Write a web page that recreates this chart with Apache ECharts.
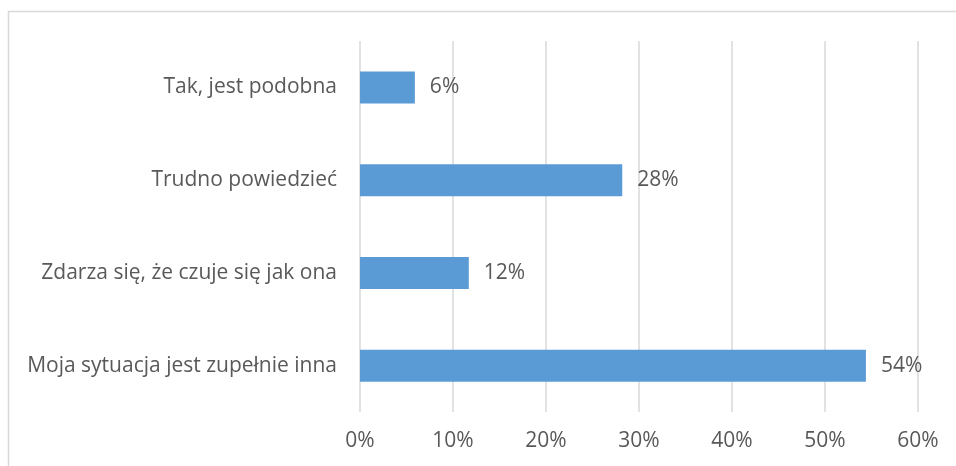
<!DOCTYPE html>
<html>
<head>
<meta charset="utf-8">
<script src="https://cdn.jsdelivr.net/npm/echarts@6/dist/echarts.min.js"></script>
<style>
  html, body { margin: 0; padding: 0; background: #fff; }
  #chart { width: 956px; height: 466px; }
</style>
</head>
<body>
<div id="chart"></div>
<script>
// od dołu do góry
const categories = [
  'Moja sytuacja jest zupełnie inna',
  'Zdarza się, że czuje się jak ona',
  'Trudno powiedzieć',
  'Tak, jest podobna'
]
const values = [54.4, 11.7, 28.2, 5.9]
const ticks = [0, 10, 20, 30, 40, 50, 60]

const font = '"Open Sans", "Noto Sans", sans-serif'
const textColor = '#595959'
const fontSize = 21

let chart = echarts.init(document.getElementById('chart'))
const option = {
  animation: false,
  graphic: [{
    type: 'rect',
    shape: { x: 8.5, y: 11.5, width: 1200, height: 1200 },
    style: { fill: 'none', stroke: '#d9d9d9', lineWidth: 1.5 },
    silent: true
  }],
  grid: { left: 360, right: 38, top: 41, bottom: 54 },
  xAxis: {
    type: 'value',
    min: ticks[0],
    max: ticks[ticks.length - 1],
    interval: 10,
    axisLine: { show: false },
    axisTick: { show: false },
    splitLine: { lineStyle: { color: '#d9d9d9', width: 1.5 } },
    axisLabel: {
      formatter: '{value}%',
      color: textColor,
      fontSize: fontSize,
      fontFamily: font,
      margin: 19
    }
  },
  yAxis: {
    type: 'category',
    data: categories,
    axisLine: { show: false },
    axisTick: { show: false },
    axisLabel: {
      color: textColor,
      fontSize: fontSize,
      fontFamily: font,
      margin: 23
    }
  },
  series: [{
    type: 'bar',
    data: values,
    barWidth: 32,
    itemStyle: { color: '#5b9bd5' },
    label: {
      show: true,
      position: 'right',
      distance: 15,
      color: textColor,
      fontSize: fontSize,
      fontFamily: font,
      formatter: p => Math.round(p.value) + '%'
    }
  }]
}
chart.setOption(option)
</script>
</body>
</html>
